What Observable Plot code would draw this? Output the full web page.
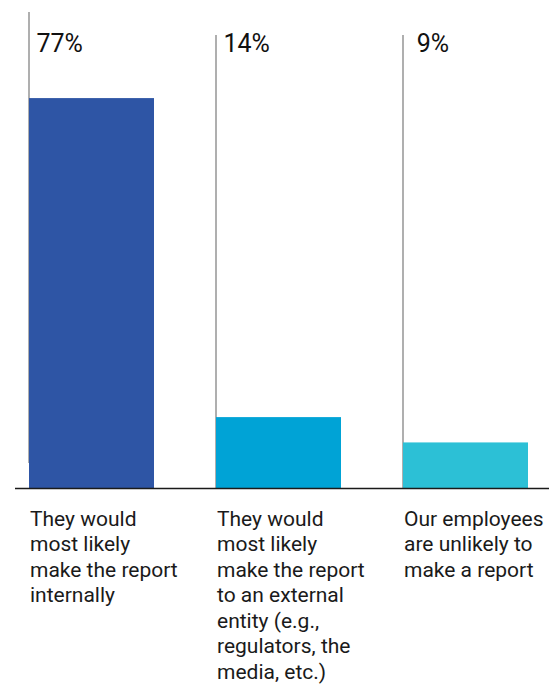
<!DOCTYPE html>
<html><head><meta charset="utf-8">
<script src="https://cdn.jsdelivr.net/npm/d3@7"></script>
<script src="https://cdn.jsdelivr.net/npm/@observablehq/plot@0.6"></script>
<style>body{margin:0;background:#fff}</style>
</head><body><div id="chart"></div>
<script>
const categories = [
  "They would most likely make the report internally",
  "They would most likely make the report to an external entity (e.g., regulators, the media, etc.)",
  "Our employees are unlikely to make a report"
];
const values = [77, 14, 9];
const tickLabels = [
  "They would\nmost likely\nmake the report\ninternally",
  "They would\nmost likely\nmake the report\nto an external\nentity (e.g.,\nregulators, the\nmedia, etc.)",
  "Our employees\nare unlikely to\nmake a report"
];
const barColors = ["#2E55A5", "#00A3D6", "#2CC0D6"];

const data = categories.map((c, i) => ({category: c, value: values[i], label: tickLabels[i], pct: (values[i] < 10 ? "\u00A0" : "") + values[i] + "%"}));

const W = 559, H = 684, mL = 29, mR = 31, mT = 12, mB = 196;
const pInner = 62 / 187;
const step = (W - mL - mR) / (categories.length - pInner);
const bw = step * (1 - pInner);
const font = "Roboto, sans-serif";

const chart = Plot.plot({
  width: W, height: H,
  marginLeft: mL, marginRight: mR, marginTop: mT, marginBottom: mB,
  style: {fontFamily: font, background: "#fff"},
  x: {domain: categories, paddingInner: pInner, paddingOuter: 0, align: 0, axis: null},
  y: {domain: [0, 94], axis: null},
  color: {domain: categories, range: barColors},
  marks: [
    Plot.ruleX(data.slice(0, 1), {x: "category", dx: -bw / 2 - 0.5, stroke: "#7a7a7a", strokeWidth: 1.2, insetBottom: 25}),
    Plot.ruleX(data.slice(1), {x: "category", dx: -bw / 2 - 0.5, stroke: "#7a7a7a", strokeWidth: 1.2, insetTop: 23}),
    Plot.barY(data, {x: "category", y: "value", fill: "category"}),
    Plot.ruleY([0], {stroke: "#1a1a1a", strokeWidth: 1.3, insetLeft: -14, insetRight: -21}),
    Plot.text(data, {x: "category", text: "pct", frameAnchor: "top", lineAnchor: "middle", textAnchor: "start", dx: -bw / 2 + 7, dy: 31.8, fontSize: 25, fill: "#111"}),
    Plot.text(data, {x: "category", text: "label", frameAnchor: "bottom", lineAnchor: "top", textAnchor: "start", dx: -bw / 2 + 0.5, dy: 19.3, fontSize: 21, lineHeight: 1.214, letterSpacing: 0.3, fill: "#1a1a1a"})
  ]
});
document.getElementById("chart").appendChild(chart);
</script>
</body></html>
